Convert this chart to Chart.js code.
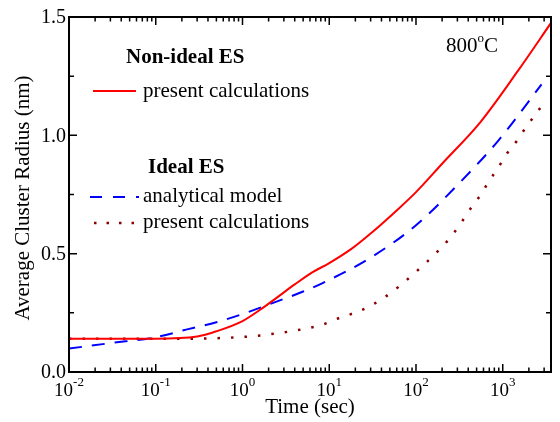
<!DOCTYPE html>
<html lang="en">
<head>
<meta charset="UTF-8">
<title>Average Cluster Radius vs Time</title>
<script src="https://cdn.jsdelivr.net/npm/chart.js@4.4.0/dist/chart.umd.min.js"></script>
<style>
  html, body { margin: 0; padding: 0; background: #fff; }
  #wrap { width: 560px; height: 422px; }
</style>
</head>
<body>
<div id="wrap"><canvas id="chart" width="560" height="422"></canvas></div>
<script>
// Non-ideal ES, present calculations (red solid)
const nonIdealTime = [0.01, 0.1, 0.3, 0.5, 1, 1.7, 2.4, 4, 6.3, 10, 18, 30, 63, 100, 200, 550, 1480, 3600];
const nonIdealRadius = [0.141, 0.141, 0.150, 0.172, 0.215, 0.27, 0.31, 0.37, 0.42, 0.46, 0.52, 0.585, 0.69, 0.76, 0.88, 1.055, 1.27, 1.475];

// Ideal ES, analytical model (blue dashed)
const modelTime = [0.01, 0.03, 0.1, 0.23, 0.5, 1, 2, 5, 8.5, 29, 100, 300, 900, 2800];
const modelRadius = [0.099, 0.122, 0.147, 0.18, 0.21, 0.245, 0.285, 0.34, 0.377, 0.48, 0.62, 0.79, 0.98, 1.215];

// Ideal ES, present calculations (dark red dotted)
const idealTime = [0.01, 0.1, 1, 2.7, 5.8, 8.3, 13, 21, 30, 44, 63, 91, 129, 186, 251, 331, 417, 550, 692, 891, 1122, 1445, 1820, 2400, 3160];
const idealRadius = [0.14, 0.14, 0.148, 0.165, 0.186, 0.2, 0.228, 0.254, 0.28, 0.317, 0.36, 0.41, 0.46, 0.517, 0.57, 0.63, 0.686, 0.746, 0.805, 0.865, 0.924, 0.975, 1.03, 1.09, 1.15];

const xMajor = [0.01, 0.1, 1, 10, 100, 1000];
const xExponents = ['-2', '-1', '0', '1', '2', '3'];
const yTicks = [0, 0.25, 0.5, 0.75, 1.0, 1.25, 1.5];
const yLabels = ['0.0', '0.5', '1.0', '1.5'];

const FONT = '"Liberation Serif", "Times New Roman", serif';

function pts(xs, ys) { return xs.map((x, i) => ({ x: x, y: ys[i] })); }

const decor = {
  id: 'decor',
  afterDraw(chart) {
    const ctx = chart.ctx, a = chart.chartArea;
    const xs = chart.scales.x, ys = chart.scales.y;
    ctx.save();
    ctx.strokeStyle = '#000';
    ctx.fillStyle = '#000';
    // frame
    ctx.lineWidth = 2;
    ctx.strokeRect(a.left, a.top, a.right - a.left, a.bottom - a.top);
    // x ticks (inside, top and bottom)
    ctx.lineWidth = 1.5;
    for (let k = -2; k <= 3; k++) {
      for (let m = 1; m <= 9; m++) {
        const v = m * Math.pow(10, k);
        if (v > xs.max) break;
        const px = xs.getPixelForValue(v);
        const len = m === 1 ? 8 : 4.5;
        ctx.beginPath();
        ctx.moveTo(px, a.bottom); ctx.lineTo(px, a.bottom - len);
        ctx.moveTo(px, a.top); ctx.lineTo(px, a.top + len);
        ctx.stroke();
      }
    }
    // y ticks (inside, left and right)
    yTicks.forEach((v, i) => {
      const py = ys.getPixelForValue(v);
      const len = i % 2 === 0 ? 8 : 5;
      ctx.beginPath();
      ctx.moveTo(a.left, py); ctx.lineTo(a.left + len, py);
      ctx.moveTo(a.right, py); ctx.lineTo(a.right - len, py);
      ctx.stroke();
    });
    // y labels
    ctx.font = '20px ' + FONT;
    ctx.textAlign = 'right';
    ctx.textBaseline = 'middle';
    yLabels.forEach(l => {
      ctx.fillText(l, a.left - 3, ys.getPixelForValue(parseFloat(l)) + 1);
    });
    // x labels with superscript
    ctx.textBaseline = 'alphabetic';
    ctx.textAlign = 'left';
    xMajor.forEach((v, i) => {
      const px = xs.getPixelForValue(v);
      ctx.font = '19px ' + FONT;
      const w1 = ctx.measureText('10').width;
      ctx.font = '13px ' + FONT;
      const w2 = ctx.measureText(xExponents[i]).width;
      const x0 = px - (w1 + w2) / 2;
      ctx.font = '19px ' + FONT;
      ctx.fillText('10', x0, 396);
      ctx.font = '13px ' + FONT;
      ctx.fillText(xExponents[i], x0 + w1, 386);
    });
    // axis titles
    ctx.font = '21px ' + FONT;
    ctx.textAlign = 'center';
    ctx.fillText('Time (sec)', (a.left + a.right) / 2, 413);
    ctx.save();
    ctx.translate(29, 198);
    ctx.rotate(-Math.PI / 2);
    ctx.fillText('Average Cluster Radius (nm)', 0, 0);
    ctx.restore();

    // legend
    ctx.textAlign = 'left';
    ctx.font = 'bold 21px ' + FONT;
    ctx.fillText('Non-ideal ES', 126, 63);
    ctx.fillText('Ideal ES', 148, 173);
    ctx.font = '21px ' + FONT;
    ctx.fillText('present calculations', 143, 97);
    ctx.fillText('analytical model', 143, 202);
    ctx.fillText('present calculations', 143, 228);
    ctx.lineWidth = 2;
    ctx.strokeStyle = '#ff0000';
    ctx.beginPath(); ctx.moveTo(93, 91); ctx.lineTo(136, 91); ctx.stroke();
    ctx.strokeStyle = '#0000ff';
    ctx.setLineDash([12, 11]);
    ctx.beginPath(); ctx.moveTo(90, 197); ctx.lineTo(139, 197); ctx.stroke();
    ctx.strokeStyle = '#8b0000';
    ctx.lineWidth = 2.5;
    ctx.setLineDash([2.5, 10]);
    ctx.beginPath(); ctx.moveTo(94, 223); ctx.lineTo(140, 223); ctx.stroke();
    ctx.setLineDash([]);

    // temperature note
    ctx.fillStyle = '#000';
    ctx.font = '21px ' + FONT;
    ctx.fillText('800', 446, 52);
    const w800 = ctx.measureText('800').width;
    ctx.font = '13px ' + FONT;
    ctx.fillText('o', 446 + w800, 42);
    const wo = ctx.measureText('o').width;
    ctx.font = '21px ' + FONT;
    ctx.fillText('C', 446 + w800 + wo, 52);
    ctx.restore();
  }
};

new Chart(document.getElementById('chart'), {
  type: 'line',
  data: {
    datasets: [
      {
        label: 'Non-ideal ES present calculations',
        data: pts(nonIdealTime, nonIdealRadius),
        borderColor: '#ff0000',
        borderWidth: 2,
        pointRadius: 0,
        cubicInterpolationMode: 'monotone'
      },
      {
        label: 'Ideal ES analytical model',
        data: pts(modelTime, modelRadius),
        borderColor: '#0000ff',
        borderWidth: 2,
        borderDash: [13, 10],
        pointRadius: 0,
        cubicInterpolationMode: 'monotone'
      },
      {
        label: 'Ideal ES present calculations',
        data: pts(idealTime, idealRadius),
        borderColor: '#8b0000',
        borderWidth: 2.5,
        borderDash: [2.5, 11],
        pointRadius: 0,
        cubicInterpolationMode: 'monotone'
      }
    ]
  },
  options: {
    responsive: false,
    animation: false,
    events: [],
    layout: { padding: { top: 17, right: 9, left: 0, bottom: 0 } },
    plugins: { legend: { display: false }, tooltip: { enabled: false } },
    scales: {
      x: {
        type: 'logarithmic',
        min: 0.01,
        max: 3600,
        grid: { display: false },
        border: { display: false },
        ticks: { display: false },
        afterFit(s) { s.height = 50; }
      },
      y: {
        type: 'linear',
        min: 0,
        max: 1.5,
        grid: { display: false },
        border: { display: false },
        ticks: { display: false },
        afterFit(s) { s.width = 69; }
      }
    }
  },
  plugins: [decor]
});
</script>
</body>
</html>
